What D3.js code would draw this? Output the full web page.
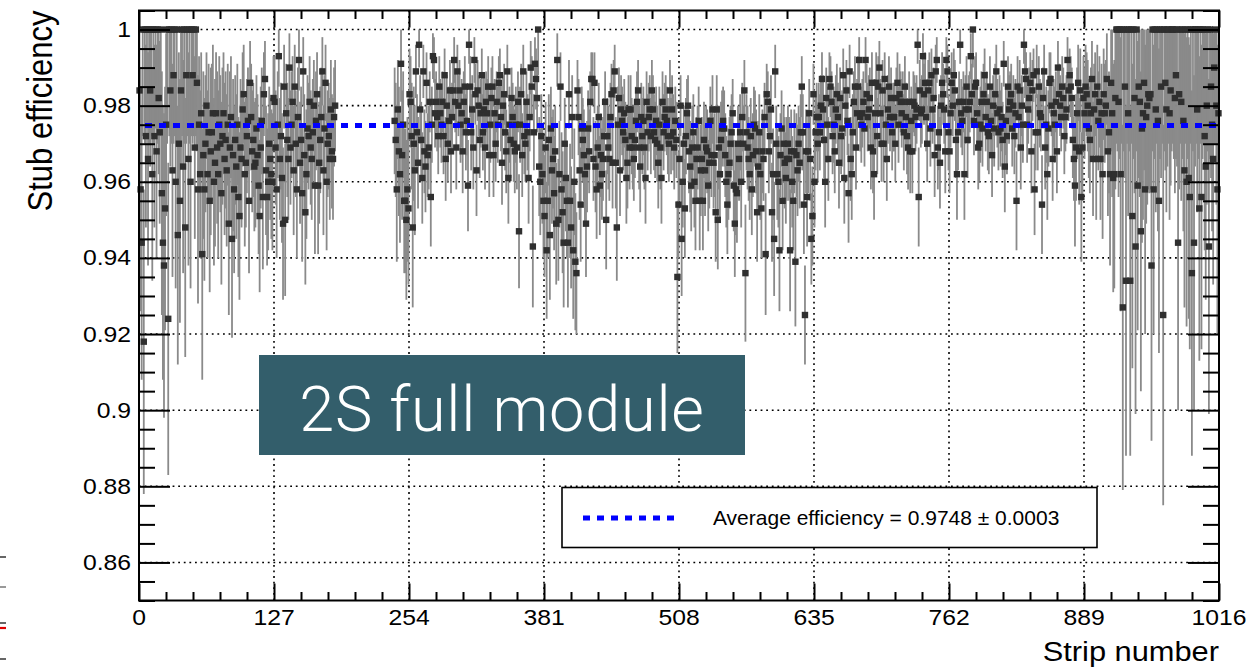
<!DOCTYPE html>
<html><head><meta charset="utf-8">
<script src="https://cdn.jsdelivr.net/npm/d3@7"></script>
<style>
body{margin:0;background:#fff;}
svg{display:block;}
text{font-family:"Liberation Sans",Arial,Helvetica,sans-serif;}
</style>
</head><body>
<svg id="c" width="1247" height="669"></svg>
<script>
// ---------- data (efficiency in per-mille, errors in per-mille) ----------
const firstStripLeft = 0;
const effLeft = [
984,958,944,1000,918,1000,972,1000,966,1000,
984,1000,962,1000,972,1000,968,1000,982,973,
1000,957,944,938,953,975,1000,924,1000,984,
1000,963,988,1000,960,1000,946,970,955,984,
1000,964,1000,948,988,1000,966,1000,960,1000,
988,1000,969,1000,986,958,975,962,978,941,
967,958,970,980,962,973,955,968,973,978,
960,965,978,969,962,975,970,957,972,978,
966,971,963,975,949,969,977,945,967,958,
971,964,975,956,951,969,966,979,983,962,
965,972,976,955,986,977,968,971,964,965,
974,967,959,951,969,976,956,983,987,963,
956,960,970,966,962,960,982,981,969,958,
975,993,966,972,961,949,985,950,978,971,
966,990,969,975,981,963,985,970,958,977,
992,965,971,957,989,967,952,962,974,972,
981,969,966,973,980,959,976,983,959,965,
971,977,989,963,974,986,960,970,972,966,
979,968,966,977,980];
const errLeft = [
20,32,36,28,40,30,24,26,28,30,
20,28,28,30,24,26,28,30,20,24,
28,32,36,40,32,24,30,41,28,20,
30,28,18,28,28,30,34,24,32,20,
28,28,30,34,18,28,28,30,28,28,
18,28,24,28,18,30,18,22,16,33,
22,24,18,14,22,18,24,22,18,18,
22,22,16,20,22,18,18,24,18,16,
20,18,20,16,24,20,16,26,20,22,
17,19,16,21,22,18,18,15,13,19,
17,15,14,19,11,14,16,15,17,17,
14,16,18,20,16,14,19,11,10,17,
18,18,15,16,17,18,11,12,15,18,
14,8,16,14,17,20,11,20,13,15,
16,9,15,14,12,17,11,14,18,13,
8,16,14,18,9,16,19,17,14,14,
12,15,16,14,12,18,13,11,18,16,
14,13,9,17,14,10,18,14,14,16,
13,15,16,13,12];

const firstStripRight = 240;
const effRight = [
976,971,958,979,968,962,991,967,975,955,
955,950,958,953,983,981,972,948,970,963,
989,973,965,996,979,971,961,989,968,964,
986,967,969,981,956,975,993,992,978,981,
977,972,985,978,975,981,972,988,966,980,
970,976,984,968,977,984,992,981,969,989,
980,984,975,978,968,981,985,973,976,959,
996,985,973,979,969,992,983,963,984,980,
971,978,988,973,979,969,981,978,985,967,
975,982,985,967,978,970,981,975,986,988,
977,965,980,983,973,968,989,961,975,971,
982,977,970,968,975,969,981,947,975,983,
967,989,972,970,981,973,961,977,990,985,
943,973,991,987,982,1000,964,960,972,962,
955,951,969,942,955,971,946,974,963,966,
957,968,949,992,950,962,985,958,952,944,
970,961,955,944,983,955,948,977,942,960,
939,936,984,977,963,954,974,971,967,962,
949,964,974,968,981,987,987,966,986,964,
958,969,977,959,967,962,966,972,981,950,
972,969,966,977,983,965,984,989,965,948,
975,982,963,979,976,973,978,971,961,965,
979,969,979,972,969,966,971,976,981,984,
969,964,977,972,976,969,961,981,973,977,
979,972,984,979,973,971,976,970,965,975,
969,961,981,973,977,979,976,972,970,984,
972,979,973,969,976,971,935,954,966,980,
945,960,970,953,972,978,980,968,964,959,
969,973,960,955,966,969,976,955,963,966,
955,971,963,969,968,959,965,976,967,979,
965,967,952,979,950,969,962,971,974,976,
974,967,960,954,962,965,970,973,978,959,
949,958,957,970,966,973,960,977,970,984,
936,973,969,966,962,972,958,967,975,974,
968,952,964,973,962,953,968,966,977,941,
983,981,968,972,979,952,962,945,989,970,
962,960,942,967,974,955,970,965,961,966,
970,966,942,968,960,955,968,939,967,963,
970,965,973,985,973,954,925,968,956,968,
978,966,945,951,983,960,973,977,970,977,
973,980,987,979,971,960,982,975,966,987,
985,981,972,975,968,979,983,977,965,982,
972,974,988,961,980,984,976,957,989,966,
962,973,981,985,969,978,985,992,977,975,
978,981,974,992,983,977,979,982,969,986,
968,962,978,986,972,985,990,978,970,984,
970,987,975,966,979,985,977,982,973,977,
977,970,982,986,975,983,981,978,981,973,
985,977,972,969,981,968,976,968,981,980,
977,979,996,956,984,978,979,993,983,986,
977,970,984,986,974,988,979,982,967,989,
992,969,973,965,980,986,983,979,968,992,
989,973,968,978,986,980,988,984,971,962,
973,981,996,978,976,981,962,979,985,971,
979,981,993,983,1000,976,985,986,978,969,
970,975,981,974,983,988,977,981,973,972,
985,976,967,980,974,983,989,978,973,979,
974,977,971,991,964,976,972,985,979,981,
983,974,980,972,978,955,985,977,984,969,
980,975,996,989,987,975,979,982,986,968,
984,988,958,973,989,973,985,978,977,954,
982,989,969,975,962,974,986,987,980,966,
978,975,981,968,990,983,980,977,985,982,
972,977,979,992,984,988,985,982,971,966,
959,969,978,986,968,984,956,969,982,978,
985,983,980,974,971,978,987,966,979,983,
966,985,976,981,966,978,962,983,978,980,
987,968,973,962,986,978,961,962,982,1000,
1000,981,1000,962,1000,927,1000,985,934,1000,
978,1000,934,1000,951,1000,982,943,1000,959,
985,981,947,974,978,986,958,977,980,983,
982,983,938,1000,958,1000,979,1000,976,955,
1000,985,1000,925,1000,986,979,1000,1000,978,
984,1000,1000,1000,982,988,1000,944,983,1000,
981,1000,976,963,1000,960,1000,961,956,1000,
936,1000,944,1000,1000,979,1000,953,1000,956,
1000,1000,972,964,980,1000,943,1000,985,975,
966,990,1000,980,958,978];
const errRight = [
14,15,19,13,17,18,10,17,14,19,
19,21,19,20,12,12,14,21,15,17,
7,10,12,6,9,10,12,7,11,12,
8,11,11,8,13,10,6,6,9,8,
9,10,8,9,10,8,10,7,11,8,
10,9,8,11,9,8,6,8,11,7,
8,8,10,9,11,8,8,10,9,12,
5,8,10,9,11,6,8,12,8,8,
10,9,7,10,9,11,8,9,8,11,
10,8,8,11,9,10,8,10,7,7,
9,11,8,8,10,11,7,12,10,10,
8,9,10,11,10,11,8,15,10,8,
11,7,10,10,8,10,12,9,7,8,
16,10,7,8,9,12,13,14,11,13,
15,16,12,18,15,12,17,11,14,13,
15,12,16,7,16,14,9,15,16,17,
12,14,15,17,9,15,16,11,18,14,
18,16,8,10,13,15,11,11,12,13,
14,12,10,11,8,7,7,11,8,12,
13,11,9,13,11,12,11,10,8,13,
10,11,11,9,8,12,8,7,12,14,
10,8,12,9,9,10,9,10,12,12,
9,11,9,10,11,11,10,9,8,8,
11,12,9,10,9,11,12,8,10,9,
9,10,8,9,10,10,9,10,12,10,
11,12,8,10,9,9,9,10,10,8,
10,9,10,11,9,10,20,14,11,8,
15,12,10,13,10,9,8,11,12,12,
11,10,12,13,11,11,9,13,12,11,
13,10,12,11,11,12,12,9,11,9,
12,11,13,9,13,11,12,10,10,9,
10,11,12,13,12,12,10,10,9,12,
14,12,13,10,11,10,12,9,10,8,
18,10,11,11,12,10,12,11,10,10,
11,13,12,10,12,13,11,11,9,16,
8,8,11,10,9,13,12,15,7,10,
12,12,16,11,10,13,10,12,12,11,
10,11,16,11,12,13,11,17,11,12,
10,12,10,8,10,13,13,11,13,11,
9,11,12,13,8,12,10,9,10,9,
10,8,7,9,10,12,8,10,11,7,
8,8,10,10,11,9,8,9,12,8,
10,10,7,12,8,8,9,13,7,11,
12,10,8,8,11,9,8,6,9,10,
9,8,10,6,8,9,9,8,11,8,
11,12,9,8,10,8,7,9,10,8,
10,7,10,11,9,8,9,8,10,9,
9,10,8,8,10,8,8,9,8,10,
8,9,10,11,8,11,9,11,8,8,
9,9,5,13,8,9,9,6,8,8,
9,10,8,8,10,7,9,8,11,7,
6,11,10,12,8,8,8,9,11,6,
7,10,11,9,8,8,7,8,10,12,
10,8,5,9,9,8,12,9,8,10,
9,8,6,8,10,9,8,8,9,11,
10,10,8,10,8,7,9,8,10,10,
8,9,11,8,10,8,7,9,10,9,
10,9,10,6,12,9,10,8,9,8,
8,10,8,10,9,13,8,9,8,11,
8,10,5,7,7,10,9,8,8,11,
8,7,12,10,7,10,8,9,9,13,
8,7,11,10,12,10,8,7,8,11,
9,10,8,11,7,8,8,9,8,8,
10,9,9,6,8,7,8,8,10,11,
16,14,12,10,14,11,17,14,11,12,
11,11,12,13,14,12,10,15,12,11,
16,11,13,12,16,13,17,12,13,12,
12,17,16,24,18,22,30,30,24,30,
32,25,34,36,30,48,32,24,46,30,
27,32,46,30,40,34,25,44,32,38,
24,25,42,30,28,23,38,28,26,25,
25,25,46,32,38,34,27,30,29,40,
34,24,30,50,32,23,27,36,30,28,
25,32,30,34,25,22,36,44,25,30,
26,34,29,36,30,38,34,37,40,30,
48,32,44,36,30,27,34,40,30,40,
34,30,30,35,26,32,44,34,24,28,
33,20,30,26,38,27];

const xTickValues = [0, 127, 254, 381, 508, 635, 762, 889, 1016];
const xTickLabels = ["0","127","254","381","508","635","762","889","1016"];
const yTickValues = [0.86, 0.88, 0.90, 0.92, 0.94, 0.96, 0.98, 1.00];
const yTickLabels = ["0.86","0.88","0.9","0.92","0.94","0.96","0.98","1"];
const averageEff = 0.9748;
const averageErr = 0.0003;
const xTitle = "Strip number";
const yTitle = "Stub efficiency";
const boxLabel = "2S full module";

// ---------- layout ----------
const svg = d3.select("#c");
const L = 139, R = 1219, T = 10.5, B = 600.5;
const x = d3.scaleLinear().domain([0, 1016]).range([L, R]);
const y = d3.scaleLinear().domain([0.85, 1.005]).range([B, T]);
const stretch = 1.15;

const points = [];
effLeft.forEach((v, i) => points.push({s: firstStripLeft + i, e: v / 1000, d: errLeft[i] / 1000}));
effRight.forEach((v, i) => points.push({s: firstStripRight + i, e: v / 1000, d: errRight[i] / 1000}));

// stray slide marks at the far left edge
[[557,"#333",1.5],[587,"#555",1.2],[623,"#333",1.5],[628,"#e00000",2.2],[659,"#333",1.5]].forEach(m => {
  svg.append("line").attr("x1",0).attr("x2",6).attr("y1",m[0]).attr("y2",m[0]).attr("stroke",m[1]).attr("stroke-width",m[2]);
});

// grid
const grid = svg.append("g").attr("stroke","#000").attr("stroke-width",1.6).attr("stroke-dasharray","1.8,3.8");
xTickValues.filter(v => v > 0 && v < 1016).forEach(v => {
  grid.append("line").attr("x1",x(v)).attr("x2",x(v)).attr("y1",T).attr("y2",B);
});
yTickValues.forEach(v => {
  grid.append("line").attr("x1",L).attr("x2",R).attr("y1",y(v)).attr("y2",y(v));
});

// error bars
svg.append("g").selectAll("line").data(points).join("line")
  .attr("x1", d => x(d.s + 0.5)).attr("x2", d => x(d.s + 0.5))
  .attr("y1", d => y(Math.min(1, d.e + d.d))).attr("y2", d => y(d.e - d.d))
  .attr("stroke", "#8a8a8a").attr("stroke-width", 1.8);

// markers
const ms = 6.4;
svg.append("g").selectAll("rect").data(points).join("rect")
  .attr("x", d => x(d.s + 0.5) - ms / 2).attr("y", d => y(d.e) - ms / 2)
  .attr("width", ms).attr("height", ms).attr("fill", "#2f2f2f");

// average line
svg.append("line").attr("x1", x(0)).attr("x2", x(1016)).attr("y1", y(averageEff)).attr("y2", y(averageEff))
  .attr("stroke", "#0000ff").attr("stroke-width", 5).attr("stroke-dasharray", "7,7").attr("stroke-dashoffset", 8);

// ticks
const yMinor = d3.range(170, 202).filter(i => i % 4 !== 0).map(i => i * 0.005);
const xMinor = d3.range(0, 41).filter(i => i % 5 !== 0).map(i => i * 25.4);
function styleAxis(g){ g.select(".domain").remove(); g.selectAll("line").attr("stroke","#000").attr("stroke-width",2); g.selectAll("text").remove(); }
svg.append("g").attr("transform",`translate(${L},0)`).call(d3.axisLeft(y).tickValues(yTickValues).tickSize(-31)).call(styleAxis);
svg.append("g").attr("transform",`translate(${L},0)`).call(d3.axisLeft(y).tickValues(yMinor).tickSize(-16)).call(styleAxis);
svg.append("g").attr("transform",`translate(${R},0)`).call(d3.axisRight(y).tickValues(yTickValues).tickSize(-31)).call(styleAxis);
svg.append("g").attr("transform",`translate(${R},0)`).call(d3.axisRight(y).tickValues(yMinor).tickSize(-16)).call(styleAxis);
svg.append("g").attr("transform",`translate(0,${B})`).call(d3.axisBottom(x).tickValues(xTickValues).tickSize(-17)).call(styleAxis);
svg.append("g").attr("transform",`translate(0,${B})`).call(d3.axisBottom(x).tickValues(xMinor).tickSize(-8.5)).call(styleAxis);
svg.append("g").attr("transform",`translate(0,${T})`).call(d3.axisTop(x).tickValues(xTickValues).tickSize(-17)).call(styleAxis);
svg.append("g").attr("transform",`translate(0,${T})`).call(d3.axisTop(x).tickValues(xMinor).tickSize(-8.5)).call(styleAxis);

// frame
svg.append("rect").attr("x",L).attr("y",T).attr("width",R-L).attr("height",B-T)
  .attr("fill","none").attr("stroke","#000").attr("stroke-width",2);

// tick labels
xTickValues.forEach((v, i) => {
  svg.append("text").attr("transform",`translate(${x(v)},625) scale(${stretch},1)`)
    .attr("text-anchor","middle").attr("font-size",21.5).attr("fill","#000").text(xTickLabels[i]);
});
yTickValues.forEach((v, i) => {
  svg.append("text").attr("transform",`translate(131,${y(v)+7.5}) scale(${stretch},1)`)
    .attr("text-anchor","end").attr("font-size",21.5).attr("fill","#000").text(yTickLabels[i]);
});

// axis titles
svg.append("text").attr("transform",`translate(${R},661) scale(1.1,1)`).attr("text-anchor","end")
  .attr("font-size",28).attr("fill","#000").text(xTitle);
svg.append("text").attr("transform",`translate(52,${T}) scale(${stretch},1) rotate(-90)`).attr("text-anchor","end")
  .attr("font-size",31).attr("fill","#000").text(yTitle);

// annotation box
svg.append("rect").attr("x",259).attr("y",355).attr("width",486).attr("height",100).attr("fill","#335e6b");
svg.append("text").attr("x",502).attr("y",431).attr("text-anchor","middle")
  .attr("font-size",63).attr("font-weight",300).attr("letter-spacing",0.8).attr("fill","#fff")
  .style("font-family","Roboto, 'Open Sans', Lato, 'Liberation Sans', sans-serif").text(boxLabel);

// legend
svg.append("rect").attr("x",562).attr("y",487.5).attr("width",535).attr("height",60)
  .attr("fill","#fff").attr("stroke","#000").attr("stroke-width",1.6);
svg.append("line").attr("x1",583).attr("x2",676).attr("y1",518).attr("y2",518)
  .attr("stroke","#0000ff").attr("stroke-width",5).attr("stroke-dasharray","7,7");
svg.append("text").attr("transform","translate(713,525) scale(1.05,1)").attr("font-size",20).attr("fill","#000")
  .text(`Average efficiency = ${averageEff.toFixed(4)} \u00b1 ${averageErr.toFixed(4)}`);
</script>
</body></html>
